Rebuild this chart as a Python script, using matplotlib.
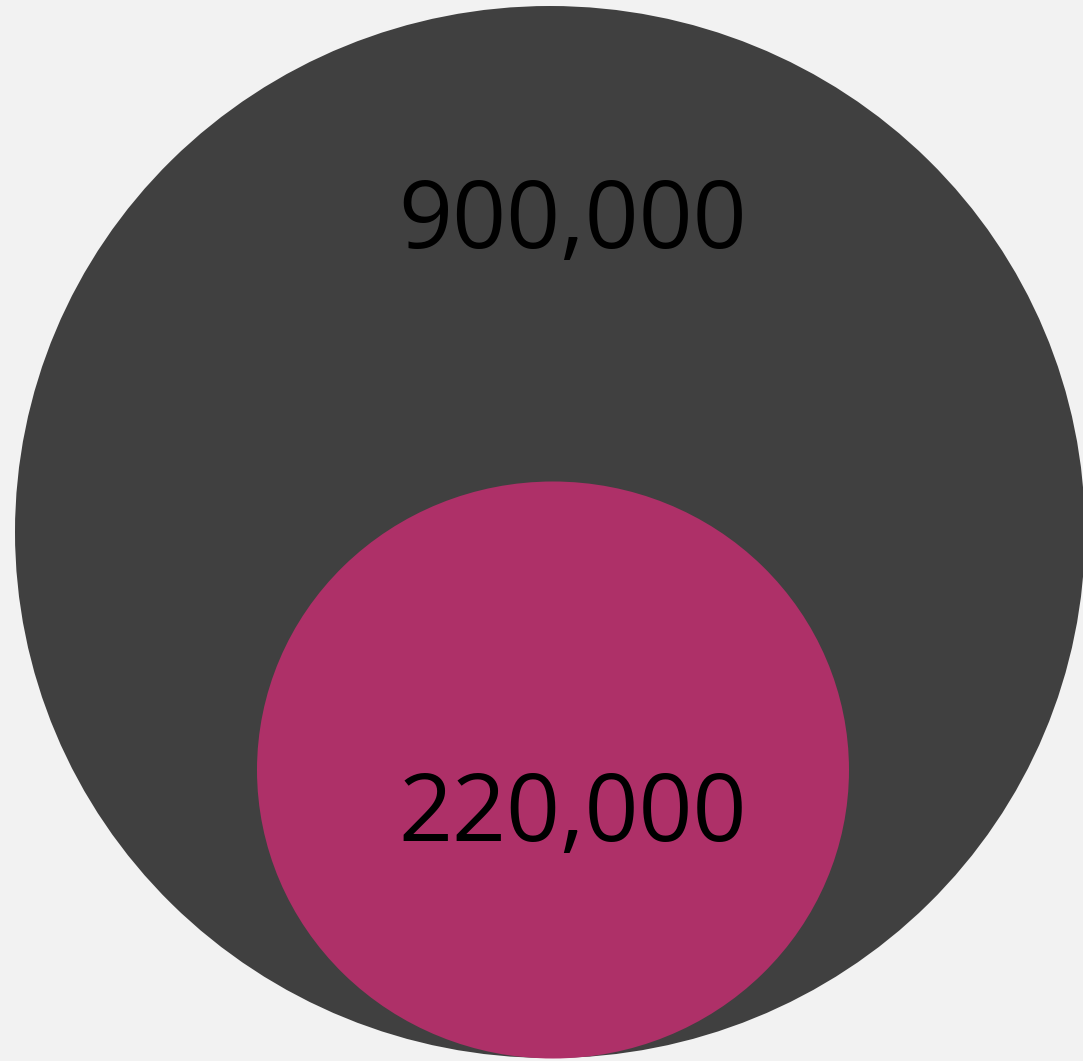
import matplotlib
matplotlib.use("Agg")
import matplotlib.pyplot as plt
from matplotlib.patches import Ellipse

# Values shown in the nested circles (outer first).
labels = ["900,000", "220,000"]
values = [900000, 220000]

# Drawing styles, in pixel units of the 1083 x 1061 canvas.
centers = [(550, 532), (553, 770)]
sizes = [(1070, 1052), (592, 577)]
colors = ["#404040", "#ae3068"]
label_pos = [(573, 248), (573, 841)]  # baseline positions

fig = plt.figure(figsize=(10.83, 10.61), dpi=100)
fig.patch.set_facecolor("#f2f2f2")
ax = fig.add_axes([0, 0, 1, 1])
ax.set_xlim(0, 1083)
ax.set_ylim(1061, 0)
ax.axis("off")

for (cx, cy), (w, h), c in zip(centers, sizes, colors):
    ax.add_patch(Ellipse((cx, cy), w, h, facecolor=c, edgecolor="none"))

for txt, (tx, ty) in zip(labels, label_pos):
    ax.text(tx, ty, txt, ha="center", va="baseline", fontsize=68,
            family="Open Sans", color="black")

fig.savefig("out.png", dpi=100, facecolor=fig.get_facecolor())
